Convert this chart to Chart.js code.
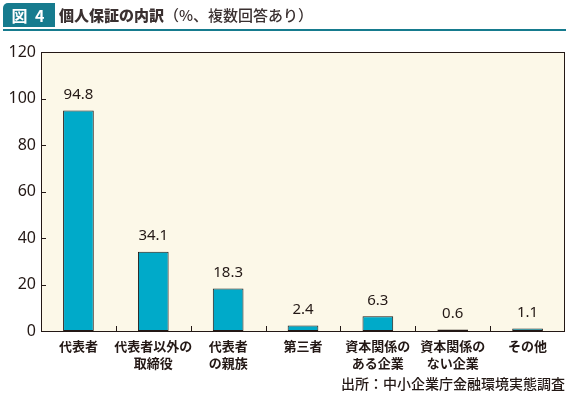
<!DOCTYPE html>
<html>
<head>
<meta charset="utf-8">
<script src="https://cdn.jsdelivr.net/npm/chart.js@4"></script>
<style>
  body { margin: 0; background: #fff; font-family: "Noto Sans CJK JP", sans-serif; }
  #wrap { position: relative; width: 570px; height: 395px; }
  #badge { position: absolute; left: 3px; top: 3px; width: 52px; height: 24px; background: #167b8e;
           border-top-left-radius: 5px; color: #fff; font-weight: bold; font-size: 16px; line-height: 24px; text-align: center; letter-spacing: 2px; }
  #title { position: absolute; left: 59px; top: 3px; font-size: 15px; line-height: 24px; color: #3a3030; font-weight: 500; }
  #title b { font-weight: 900; }
  #rule { position: absolute; left: 3px; top: 29px; width: 563px; height: 2px; background: #167b8e; }
  canvas { position: absolute; left: 0; top: 0; }
</style>
</head>
<body>
<div id="wrap">
  <canvas id="mycanvas" width="570" height="395"></canvas>
  <div id="badge">図 4</div>
  <div id="title"><b>個人保証の内訳</b>（%、複数回答あり）</div>
  <div id="rule"></div>
</div>
<script>
var categories = [["代表者"], ["代表者以外の", "取締役"], ["代表者", "の親族"], ["第三者"], ["資本関係の", "ある企業"], ["資本関係の", "ない企業"], ["その他"]];
var values = [94.8, 34.1, 18.3, 2.4, 6.3, 0.6, 1.1];
var yTicks = [0, 20, 40, 60, 80, 100, 120];
var source = "出所：中小企業庁金融環境実態調査";

var textColor = "#231815";

var backPlugin = {
  id: "back",
  beforeDraw: function(chart) {
    var a = chart.chartArea, ctx = chart.ctx;
    ctx.save();
    ctx.fillStyle = "#fcf8e8";
    ctx.fillRect(a.left, a.top, a.right - a.left, a.bottom - a.top);
    ctx.restore();
  },
  afterDraw: function(chart) {
    var a = chart.chartArea, ctx = chart.ctx;
    var ys = chart.scales.y, xs = chart.scales.x;
    ctx.save();
    ctx.strokeStyle = textColor;
    ctx.lineWidth = 1;
    // frame
    ctx.strokeRect(a.left + 0.5, a.top + 0.5, a.right - a.left - 1, a.bottom - a.top);
    // inner ticks
    ctx.beginPath();
    yTicks.forEach(function(v) {
      var py = Math.round(ys.getPixelForValue(v)) + 0.5;
      ctx.moveTo(a.left, py); ctx.lineTo(a.left + 5, py);
    });
    for (var i = 1; i < categories.length; i++) {
      var px = Math.round((xs.getPixelForValue(i - 1) + xs.getPixelForValue(i)) / 2) + 0.5;
      ctx.moveTo(px, a.bottom); ctx.lineTo(px, a.bottom - 5);
    }
    ctx.stroke();
    // value labels
    ctx.fillStyle = textColor;
    ctx.font = "15px 'Noto Sans', sans-serif";
    ctx.textAlign = "center";
    ctx.textBaseline = "bottom";
    var meta = chart.getDatasetMeta(0);
    meta.data.forEach(function(bar, i) {
      ctx.fillText(values[i].toFixed(1), bar.x, bar.y - 8);
    });
    // source
    ctx.font = "500 14px 'Noto Sans CJK JP', sans-serif";
    ctx.textAlign = "right";
    ctx.textBaseline = "middle";
    ctx.fillText(source, 565, 384);
    ctx.restore();
  }
};

var ctx = document.getElementById("mycanvas");
var chart = new Chart(ctx, {
  type: "bar",
  data: {
    labels: categories,
    datasets: [{
      data: values,
      backgroundColor: "#00aac9",
      borderColor: "#231815",
      borderWidth: 1,
      borderSkipped: false,
      categoryPercentage: 1.0,
      barPercentage: 0.41
    }]
  },
  options: {
    responsive: false,
    animation: false,
    layout: { padding: { left: 0, top: 52, right: 5, bottom: 0 } },
    plugins: { legend: { display: false }, tooltip: { enabled: false } },
    scales: {
      x: {
        grid: { display: false, drawTicks: false },
        border: { display: false },
        ticks: { color: textColor, font: { family: "'Noto Sans CJK JP', sans-serif", size: 13, weight: "bold", lineHeight: 1.35 }, padding: 6, maxRotation: 0, autoSkip: false },
        afterFit: function(s) { s.height = 64; }
      },
      y: {
        min: 0, max: 120,
        grid: { display: false, drawTicks: false },
        border: { display: false },
        ticks: { stepSize: 20, color: textColor, font: { family: "'Noto Sans', sans-serif", size: 16 }, padding: 5 },
        afterFit: function(s) { s.width = 41; }
      }
    }
  },
  plugins: [backPlugin]
});
</script>
</body>
</html>
